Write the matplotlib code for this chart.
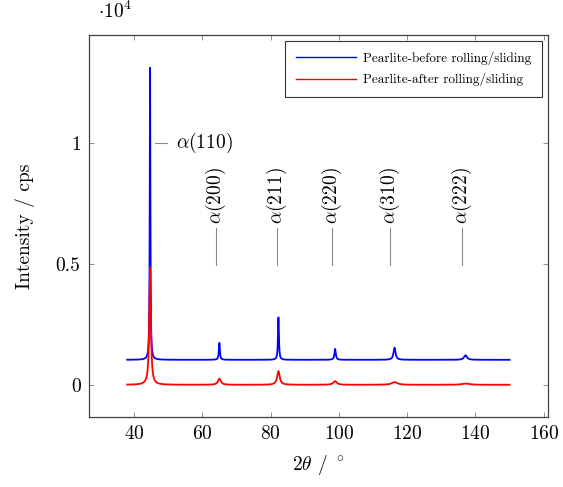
import numpy as np
import matplotlib
matplotlib.use("Agg")
import matplotlib.pyplot as plt

plt.rcParams['font.family'] = ['cmr10', 'DejaVu Serif']
plt.rcParams['mathtext.fontset'] = 'cm'
plt.rcParams['axes.formatter.use_mathtext'] = True

# 2theta range of the scans (degrees)
two_theta_start = 38.0
two_theta_end = 150.0

# ferrite reflections: peak positions, heights above background, widths (FWHM)
peak_pos = [44.7, 65.0, 82.3, 98.9, 116.3, 137.1]
before_heights = [12050, 700, 1750, 450, 500, 190]
before_widths = [0.22, 0.35, 0.32, 0.45, 0.7, 1.0]
before_background = 1050

after_heights = [4850, 250, 560, 150, 110, 50]
after_widths = [0.55, 1.0, 0.9, 1.2, 2.0, 2.5]
after_background = 20

# reflection labels and where they are pinned
hkl_labels = [r"$\alpha(200)$", r"$\alpha(211)$", r"$\alpha(220)$",
              r"$\alpha(310)$", r"$\alpha(222)$"]
hkl_label_x = [64.0, 82.0, 98.0, 115.0, 136.0]

series_names = ["Pearlite-before rolling/sliding", "Pearlite-after rolling/sliding"]


def pattern(x, background, heights, widths):
    y = np.full_like(x, background, dtype=float)
    for x0, h, w in zip(peak_pos, heights, widths):
        y += h / (1.0 + ((x - x0) / (w / 2.0)) ** 2)
    return y


two_theta = np.arange(two_theta_start, two_theta_end + 1e-9, 0.01)
before = pattern(two_theta, before_background, before_heights, before_widths)
after = pattern(two_theta, after_background, after_heights, after_widths)

fig = plt.figure(figsize=(5.63, 4.87), dpi=100)
ax = fig.add_axes([0.158, 0.1437, 0.815, 0.7843])

ax.plot(two_theta, before, color='blue', linewidth=1.3, label=series_names[0])
ax.plot(two_theta, after, color='red', linewidth=1.3, label=series_names[1])

# pin for the main reflection
ax.plot([46.0, 49.8], [10000, 10000], color='0.55', linewidth=0.8)
ax.text(52.3, 10000, r"$\alpha(110)$", fontsize=14, va='center', ha='left')

# pins for the other reflections
for lab, xp in zip(hkl_labels, hkl_label_x):
    ax.plot([xp, xp], [4970, 6500], color='0.55', linewidth=0.8)
    ax.text(xp, 6650, lab, fontsize=14, rotation=90, ha='center', va='bottom')

ax.set_xlim(26.8, 161.2)
ax.set_ylim(-1310, 14450)
ax.set_xticks([40, 60, 80, 100, 120, 140, 160])
ax.set_yticks([0, 5000, 10000])
ax.set_yticklabels(["0", "0.5", "1"])
ax.text(0.02, 1.035, r"$\cdot 10^4$", transform=ax.transAxes, fontsize=14,
        ha='left', va='bottom')

ax.tick_params(direction='in', length=3.5, width=0.6, color='0.5',
               top=True, right=True, labelsize=14, pad=6)
for sp in ax.spines.values():
    sp.set_linewidth(0.9)
    sp.set_color('0.25')

ax.set_xlabel(r"$2\theta$ / $^\circ$", fontsize=14, labelpad=7)
ax.set_ylabel("Intensity / cps", fontsize=14, labelpad=15)

leg = ax.legend(loc='upper right', fontsize=9.5,
                frameon=True, fancybox=False, edgecolor='black',
                handlelength=4.6, handletextpad=0.5, borderaxespad=0.45,
                borderpad=0.8, labelspacing=0.6)
leg.get_frame().set_linewidth(0.8)
for line in leg.get_lines():
    line.set_linewidth(1.0)

fig.savefig("out.png", dpi=100)
